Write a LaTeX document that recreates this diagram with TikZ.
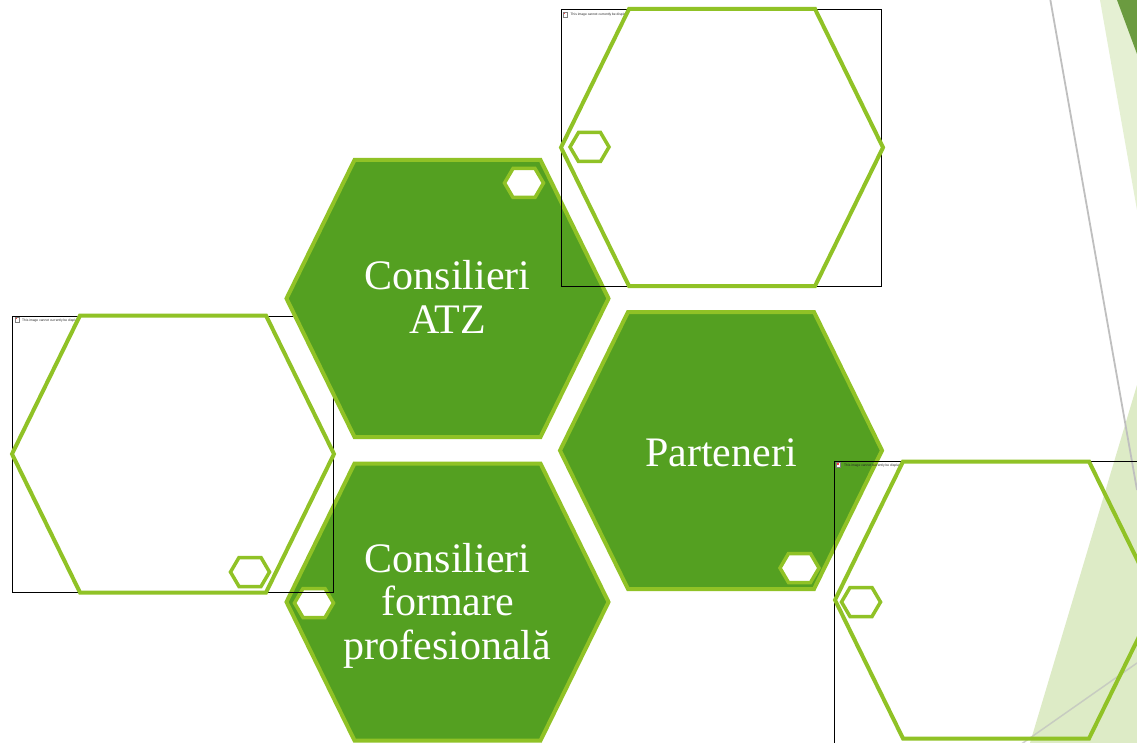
\documentclass[tikz,border=0pt]{standalone}
\usepackage{fontspec}
\setmainfont{Liberation Serif}
\newfontfamily\phfont{Liberation Sans}
\definecolor{hexfill}{HTML}{54A021}
\definecolor{hexline}{HTML}{90C226}
\definecolor{bgstrip}{HTML}{E5F0D3}
\definecolor{bgtri}{HTML}{DDEBC6}
\definecolor{bgdark}{HTML}{6B9B40}
\definecolor{bggray}{HTML}{BFBFBF}
\begin{document}
\begin{tikzpicture}[x=1pt,y=-1pt,
  bighex/.pic={\path[pic actions] (-161,0) -- (-93,-138.5) -- (93,-138.5) -- (161,0) -- (93,138.5) -- (-93,138.5) -- cycle;},
  smallhex/.pic={\path[pic actions] (-19.5,0) -- (-11,-14.5) -- (11,-14.5) -- (19.5,0) -- (11,14.5) -- (-11,14.5) -- cycle;},
  solidhex/.style={fill=hexfill, draw=hexline, line width=4pt},
  ringline/.style={draw=hexline, line width=4pt},
  ringfill/.style={fill=white},
  tinyhex/.style={fill=white, draw=hexline, line width=3.5pt},
  frame/.style={draw=black, line width=0.9pt},
  hexlabel/.style={text=white, font=\fontsize{42}{43.5}\selectfont, align=center, inner sep=0pt},
  phtext/.style={font=\phfont\fontsize{3.3}{4}\selectfont, anchor=base west, inner sep=0pt, text=black!85},
  phicon/.style={draw=black!50, line width=0.3pt, fill=white, minimum width=4pt, minimum height=5pt, inner sep=0pt},
]
\useasboundingbox (0,0) rectangle (1137,743);
\fill[white] (0,0) rectangle (1137,743);

% --- Consilieri formare profesionala
\pic (formare) at (447.5,602) [solidhex] {bighex};
\pic (formaresm) at (314,603) [tinyhex] {smallhex};
\node[hexlabel] (formaretxt) at (447.5,605.7) {Consilieri\\formare\\profesională};

% --- left placeholder
\node[phicon] (lefticon) at (17,319.5) {};
\fill[red!75] (15.6,317.6) rectangle (17.4,319.4);
\node[phtext] (lefttxt) at (22,321.5) {This image cannot currently be displayed.};
\pic (lefthexf) at (173,454) [ringfill] {bighex};
\draw[frame] (12,316) rectangle (333,592);
\pic (lefthex) at (173,454) [ringline] {bighex};
\pic (leftsm) at (250,572) [tinyhex] {smallhex};

% --- Consilieri ATZ
\pic (atz) at (447.5,298.5) [solidhex] {bighex};
\pic (atzsm) at (524,183) [tinyhex] {smallhex};
\node[hexlabel] (atztxt) at (447.5,296.7) {Consilieri\\ATZ};

% --- top placeholder
\node[phicon] (topicon) at (565,14.5) {};
\fill[red!75] (563.6,12.6) rectangle (565.4,14.4);
\node[phtext] (toptxt) at (570.5,15.5) {This image cannot currently be displayed.};
\pic (tophexf) at (722,147.5) [ringfill] {bighex};
\draw[frame] (561,9) rectangle (881,286);
\pic (tophex) at (722,147.5) [ringline] {bighex};
\pic (topsm) at (589.5,147) [tinyhex] {smallhex};

% --- Parteneri
\pic (part) at (721,450.5) [solidhex] {bighex};
\pic (partsm) at (799.5,568) [tinyhex] {smallhex};
\node[hexlabel] (parttxt) at (721,453.2) {Parteneri};

% --- bottom-right placeholder
\node[phicon] (bricon) at (838.5,465) {};
\fill[red!75] (837.1,463.1) rectangle (838.9,464.9);
\node[phtext] (brtxt) at (844,466.5) {This image cannot currently be displayed.};
\pic (brhexf) at (996,600) [ringfill] {bighex};

% --- background decorations
\fill[bgstrip] (1100,0) -- (1137,0) -- (1137,210) -- cycle;
\fill[bgdark] (1117,0) -- (1137,0) -- (1137,54) -- cycle;
\fill[bgtri] (1137,385) -- (1137,743) -- (1030,743) -- cycle;
\coordinate (g1a) at (1050,-2);
\coordinate (g1b) at (1137,490);
\coordinate (g2a) at (1020,745);
\coordinate (g2b) at (1137,663);
\draw[bggray, line width=1.8pt] (g1a) -- (g1b);
\draw[black!25, opacity=0.7, line width=1.5pt] (g2a) -- (g2b);

\draw[frame] (834,461) rectangle (1160,760);
\pic (brhex) at (996,600) [ringline] {bighex};
\pic (brsm) at (861,602) [tinyhex] {smallhex};
\end{tikzpicture}
\end{document}
